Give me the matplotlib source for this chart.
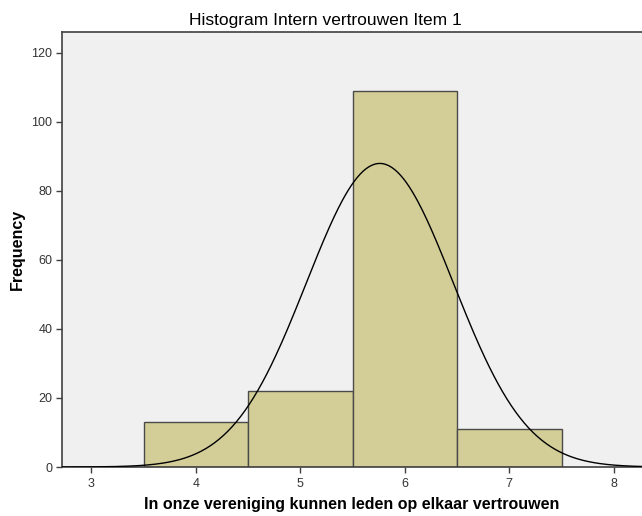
import matplotlib
matplotlib.use("Agg")
import matplotlib.pyplot as plt
import numpy as np

plt.rcParams['font.family'] = ['Liberation Sans', 'DejaVu Sans']

# score values and their frequencies
scores = [4, 5, 6, 7]
counts = [13, 22, 109, 11]
bin_width = 1.0

# fitted normal curve from the data
vals = np.repeat(scores, counts)
n = len(vals)
mean = vals.mean()
sd = vals.std(ddof=1)

fig = plt.figure(figsize=(6.42, 5.16), dpi=100)
ax = fig.add_axes([62 / 642, 1 - 467 / 516, 1 - 62 / 642, (467 - 32) / 516])
ax.set_facecolor('#f0f0f0')

ax.bar(scores, counts, width=bin_width, color='#d3ce98', edgecolor='#4a4a4a',
       linewidth=1.0, zorder=2)

xs = np.linspace(2.72, 8.27, 400)
ys = n * bin_width / (sd * np.sqrt(2 * np.pi)) * np.exp(-0.5 * ((xs - mean) / sd) ** 2)
ax.plot(xs, ys, color='black', linewidth=1.0, zorder=3)

ax.set_xlim(2.72, 8.27)
ax.set_ylim(0, 126)
ax.set_xticks([3, 4, 5, 6, 7, 8])
ax.set_yticks([0, 20, 40, 60, 80, 100, 120])

for s in ['left', 'top', 'bottom']:
    ax.spines[s].set_color('#404040')
    ax.spines[s].set_linewidth(1.2)
ax.spines['right'].set_visible(False)

ax.tick_params(axis='both', direction='out', length=4, width=1, color='#404040',
               labelsize=9, labelcolor='#333333', pad=3)
ax.tick_params(axis='x', pad=4)

ax.set_title('Histogram Intern vertrouwen Item 1', fontsize=12.5, pad=5, x=(325 - 62) / 580)
ax.set_ylabel('Frequency', fontsize=11.5, fontweight='bold')
ax.yaxis.set_label_coords((25 - 62) / 580, 0.5)
ax.set_xlabel('In onze vereniging kunnen leden op elkaar vertrouwen', fontsize=11.5,
              fontweight='bold')
ax.xaxis.set_label_coords((352 - 62) / 580, -30 / 435)

fig.savefig('out.png', dpi=100)
